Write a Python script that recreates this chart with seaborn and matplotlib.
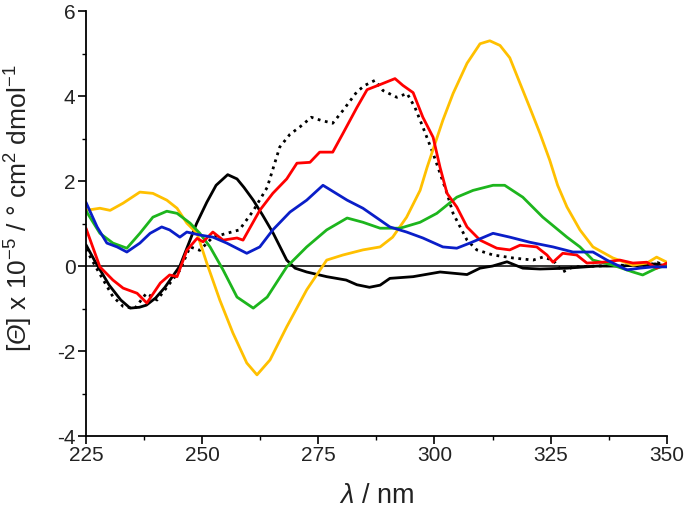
import matplotlib
matplotlib.use("Agg")
import matplotlib.pyplot as plt
from matplotlib.ticker import MultipleLocator
import seaborn as sns
import pandas as pd

# ---- data ----
black_x = [225, 227, 230, 232.5, 234.5, 236.5, 238, 240, 242, 245.2, 247, 248.8, 251, 253, 255.5,
           257.5, 259, 261, 263, 265.3, 268.2, 270, 272.5, 276.8, 281, 283.3, 286, 288.3, 290.4,
           295.4, 301.2, 307, 309.8, 312.5, 315.6, 319, 322.7, 328.5, 335, 340, 345, 347.5, 350]
black_y = [0.5, 0.1, -0.45, -0.8, -0.99, -0.97, -0.92, -0.75, -0.5, 0.0, 0.5, 1.0, 1.5, 1.9, 2.15,
           2.05, 1.85, 1.55, 1.2, 0.77, 0.14, -0.05, -0.14, -0.25, -0.33, -0.44, -0.5, -0.45, -0.29,
           -0.25, -0.14, -0.2, -0.05, 0.0, 0.1, -0.05, -0.07, -0.05, 0.0, 0.0, 0.03, 0.05, 0.0]

dot_x = [225, 227, 230.8, 233, 235.5, 238, 240.3, 242.4, 245.2, 247.4, 249.5, 252.3, 255.3, 258, 261,
         264, 266.7, 268.9, 271, 273.5, 275.5, 278.1, 280.3, 283.3, 285, 287.2, 288.9, 291.9, 294.1,
         295.8, 297.5, 299.7, 301.2, 302.7, 304, 307, 309.1, 312.6, 316.9, 321.2, 323.3, 325.5,
         327.6, 329.8, 335, 340, 345, 348, 350]
dot_y = [0.4, 0.0, -0.72, -0.95, -1.0, -0.64, -0.8, -0.5, -0.1, 0.45, 0.37, 0.68, 0.77, 0.85, 1.3,
         1.85, 2.8, 3.1, 3.27, 3.5, 3.43, 3.36, 3.66, 4.1, 4.25, 4.37, 4.13, 3.97, 4.06,
         3.73, 3.27, 2.65, 2.18, 1.71, 1.24, 0.61, 0.38, 0.26, 0.19, 0.14, 0.21, 0.14,
         -0.14, -0.02, 0.0, 0.02, 0.0, 0.08, 0.0]

red_x = [225, 228, 230.8, 233, 236, 238.1, 241, 243, 244.6, 246.7, 248.9, 250.2, 252.3, 254.5, 257.5,
         258.8, 262.4, 265.2, 268.2, 270.4, 273.2, 275.3, 278.1, 280.3, 283.3, 285.5, 288.3, 291.5,
         293.2, 295.4, 297.5, 299.7, 301.2, 302.7, 304.8, 307, 309.8, 313.4, 316.2, 318.4, 322,
         324.2, 325.5, 327.6, 330.6, 332.8, 336.2, 339.9, 342.7, 345.7, 347.8, 350]
red_y = [0.89, -0.02, -0.33, -0.52, -0.64, -0.87, -0.4, -0.21, -0.25, 0.37, 0.65, 0.57, 0.8, 0.61, 0.66,
         0.61, 1.31, 1.71, 2.05, 2.42, 2.44, 2.68, 2.68, 3.12, 3.73, 4.15, 4.27, 4.41,
         4.25, 4.08, 3.5, 3.03, 2.32, 1.71, 1.39, 0.92, 0.61, 0.42, 0.38, 0.49, 0.45,
         0.26, 0.09, 0.3, 0.26, 0.07, 0.09, 0.14, 0.07, 0.09, -0.05, 0.07]

blue_x = [225, 227.4, 229.5, 231.7, 233.8, 236.6, 238.8, 241.3, 243, 245.2, 246.7, 249.5, 252.3, 255.3,
          259.6, 262.4, 265.2, 268.9, 272.5, 276, 281.2, 284.6, 288.3, 290.4, 294, 297.5, 301.8,
          304.8, 307.6, 312.6, 316.2, 320.5, 325.5, 329.8, 334.1, 337.1, 341.4, 344.2, 347, 350]
blue_y = [1.5, 0.92, 0.54, 0.45, 0.33, 0.54, 0.77, 0.92, 0.85, 0.68, 0.8, 0.73, 0.68, 0.54,
          0.3, 0.45, 0.85, 1.27, 1.55, 1.9, 1.55, 1.36, 1.08, 0.92, 0.8, 0.66, 0.45,
          0.42, 0.54, 0.77, 0.68, 0.56, 0.45, 0.33, 0.33, 0.14, -0.09, -0.05, -0.02, -0.02]

green_x = [225, 228, 230.8, 233.8, 236.6, 239.4, 242.4, 244.6, 247.4, 249.5, 251.7, 254.5, 257.5, 261,
           264, 268.2, 272.5, 276.8, 281.2, 284.6, 288.3, 292.6, 296.9, 300.5, 304.8, 308.3, 312.6,
           315.1, 319, 323.3, 328.5, 331.3, 334.1, 338.4, 342.7, 344.8, 347.8, 350]
green_y = [1.3, 0.77, 0.54, 0.42, 0.77, 1.15, 1.29, 1.24, 1.01, 0.77, 0.45, -0.09, -0.73, -0.99,
           -0.73, -0.02, 0.45, 0.85, 1.13, 1.03, 0.89, 0.89, 1.03, 1.24, 1.62, 1.78, 1.9,
           1.9, 1.62, 1.15, 0.68, 0.45, 0.14, 0.02, -0.14, -0.21, -0.05, 0.02]

yellow_x = [225, 228, 230.2, 233, 236.6, 239.4, 242.4, 244.6, 246.7, 248.9, 251, 253.8, 256.6, 259.6,
            261.8, 264.6, 268.2, 272.5, 276.8, 280.3, 284.6, 288.3, 291, 294, 296.9, 298.4, 301.8,
            304, 307, 309.8, 311.9, 314.1, 316.2, 318.4, 320.5, 322.7, 324.8, 326.5, 328.5, 331.3,
            334.1, 338.4, 342.7, 345.7, 347.8, 350]
yellow_y = [1.31, 1.36, 1.31, 1.48, 1.74, 1.71, 1.55, 1.36, 1.01, 0.77, 0.07, -0.8, -1.57, -2.28,
            -2.56, -2.21, -1.43, -0.56, 0.14, 0.26, 0.38, 0.45, 0.68, 1.15, 1.78, 2.32, 3.43,
            4.06, 4.77, 5.23, 5.3, 5.19, 4.9, 4.3, 3.73, 3.12, 2.49, 1.9, 1.39, 0.85,
            0.45, 0.19, 0.02, 0.07, 0.21, 0.09]

x_ticks = [225, 250, 275, 300, 325, 350]
y_ticks = [-4, -2, 0, 2, 4, 6]

# ---- style ----
sns.set_theme(style="ticks")
plt.rcParams["font.family"] = ["Liberation Sans", "DejaVu Sans"]
plt.rcParams["mathtext.fontset"] = "custom"
plt.rcParams["mathtext.rm"] = "Liberation Sans"
plt.rcParams["mathtext.it"] = "Liberation Sans:italic"
plt.rcParams["mathtext.sf"] = "Liberation Sans:italic"

fig = plt.figure(figsize=(6.85, 5.13), dpi=100)
ax = fig.add_axes([0.1255, 0.150, 0.848, 0.8285])

ax.axhline(0, color="black", lw=1.1, zorder=1)

series = [
    (dot_x, dot_y, "black", ":"),
    (black_x, black_y, "black", "-"),
    (yellow_x, yellow_y, "#FFC000", "-"),
    (green_x, green_y, "#1DB51D", "-"),
    (red_x, red_y, "#FF0000", "-"),
    (blue_x, blue_y, "#0A1EC8", "-"),
]
for xs, ys, c, ls in series:
    df = pd.DataFrame({"x": xs, "y": ys})
    sns.lineplot(data=df, x="x", y="y", ax=ax, color=c, linestyle=ls,
                 linewidth=2.0, estimator=None, sort=False, zorder=2)

ax.set_xlim(225, 350)
ax.set_ylim(-4, 6)
ax.set_xticks(x_ticks)
ax.set_yticks(y_ticks)
ax.set_xticklabels([str(v) for v in x_ticks])
ax.set_yticklabels([str(v) for v in y_ticks])
ax.xaxis.set_minor_locator(MultipleLocator(12.5))
ax.yaxis.set_minor_locator(MultipleLocator(1))
ax.tick_params(which="major", direction="out", length=5.5, width=1.2, labelsize=15, color="black",
               labelcolor="#222222", pad=2)
ax.tick_params(which="minor", direction="out", length=3, width=1.0, color="black")

for side in ["top", "right"]:
    ax.spines[side].set_visible(False)
for side in ["left", "bottom"]:
    ax.spines[side].set_linewidth(1.3)
    ax.spines[side].set_color("black")

ax.set_xlabel(r"$\mathit{\lambda}$ / nm", fontsize=19.5, color="#222222")
ax.set_ylabel(r"[$\mathsf{Θ}$] x 10$^{-5}$ / ° cm$^{2}$ dmol$^{-1}$", fontsize=19,
              color="#222222")
ax.xaxis.set_label_coords(0.5, -0.11)
ax.yaxis.set_label_coords(-0.087, 0.535)

fig.savefig("out.png", dpi=100, facecolor="white")
